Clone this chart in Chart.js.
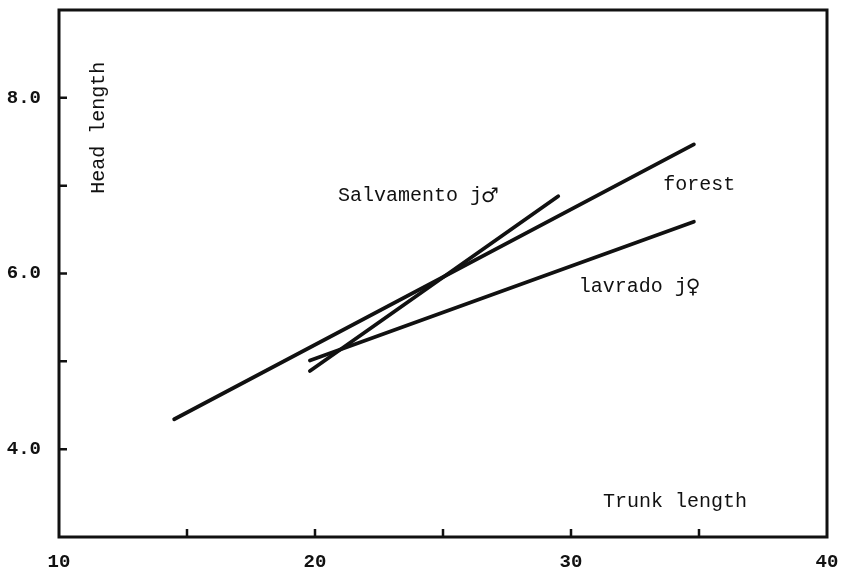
<!DOCTYPE html>
<html>
<head>
<meta charset="utf-8">
<script src="https://cdn.jsdelivr.net/npm/chart.js@4/dist/chart.umd.min.js"></script>
<style>
  html, body { margin: 0; padding: 0; background: #fff; }
  canvas { display: block; }
</style>
</head>
<body>
<canvas id="c" width="845" height="570"></canvas>
<script>
// Regression lines of head length on trunk length (end points)
const forestX = [14.5, 34.8];
const forestY = [4.34, 7.47];
const lavradoX = [19.8, 34.8];
const lavradoY = [5.01, 6.59];
const salvamentoX = [19.8, 29.5];
const salvamentoY = [4.89, 6.88];

// Axis ranges and tick steps
const xTicks = [10, 15, 20, 25, 30, 35, 40];
const xLabels = [10, 20, 30, 40];
const yTicks = [3, 4, 5, 6, 7, 8, 9];
const yLabels = [4, 6, 8];

const FONT = "'Courier New', 'Liberation Mono', monospace";
const SYMFONT = "'DejaVu Sans', sans-serif";
const INK = '#111';

function pts(xs, ys) { return xs.map((x, i) => ({ x: x, y: ys[i] })); }

function lineSet(label, xs, ys) {
  return {
    label: label,
    data: pts(xs, ys),
    showLine: true,
    borderColor: INK,
    borderWidth: 3.8,
    borderCapStyle: 'round',
    pointRadius: 0,
    pointHoverRadius: 0,
    fill: false
  };
}

// Frame, inward tick marks and in-plot captions
const framePlugin = {
  id: 'frame',
  afterDatasetsDraw(chart) {
    const { ctx, chartArea: a, scales: { x, y } } = chart;
    ctx.save();
    ctx.strokeStyle = INK;
    ctx.lineWidth = 3;
    ctx.lineJoin = 'miter';
    ctx.strokeRect(a.left, a.top, a.right - a.left, a.bottom - a.top);

    ctx.lineWidth = 2.5;
    ctx.beginPath();
    xTicks.forEach(v => {
      if (v <= x.min || v >= x.max) return;
      const px = x.getPixelForValue(v);
      ctx.moveTo(px, a.bottom);
      ctx.lineTo(px, a.bottom - 8);
    });
    yTicks.forEach(v => {
      if (v <= y.min || v >= y.max) return;
      const py = y.getPixelForValue(v);
      ctx.moveTo(a.left, py);
      ctx.lineTo(a.left + 8, py);
    });
    ctx.stroke();

    ctx.fillStyle = INK;
    ctx.textBaseline = 'middle';
    ctx.textAlign = 'left';
    const put = (t, sym, vx, vy) => {
      const px = x.getPixelForValue(vx), py = y.getPixelForValue(vy);
      ctx.font = '20px ' + FONT;
      ctx.fillText(t, px, py);
      if (sym) {
        const w = ctx.measureText(t).width;
        ctx.font = '20px ' + SYMFONT;
        ctx.fillText(sym, px + w - 1, py + 1);
      }
    };
    put('Salvamento j', '\u2642', 20.9, 6.89);
    put('forest', '', 33.6, 7.01);
    put('lavrado j', '\u2640', 30.3, 5.85);
    put('Trunk length', '', 31.25, 3.40);

    ctx.save();
    ctx.font = '20px ' + FONT;
    ctx.translate(x.getPixelForValue(11.55), y.getPixelForValue(7.66));
    ctx.rotate(-Math.PI / 2);
    ctx.textAlign = 'center';
    ctx.fillText('Head length', 0, 0);
    ctx.restore();

    ctx.restore();
  }
};

new Chart(document.getElementById('c'), {
  type: 'scatter',
  data: {
    datasets: [
      lineSet('forest', forestX, forestY),
      lineSet('lavrado', lavradoX, lavradoY),
      lineSet('Salvamento', salvamentoX, salvamentoY)
    ]
  },
  options: {
    responsive: false,
    animation: false,
    devicePixelRatio: 1,
    layout: { padding: { left: 0, top: 10, right: 18, bottom: 0 } },
    plugins: { legend: { display: false }, tooltip: { enabled: false } },
    scales: {
      x: {
        type: 'linear',
        min: 10, max: 40,
        afterFit(s) { s.height = 33; s.paddingLeft = 0; s.paddingRight = 0; },
        grid: { display: false, drawTicks: false },
        border: { display: false },
        ticks: {
          stepSize: 5,
          padding: 14,
          maxRotation: 0,
          autoSkip: false,
          color: INK,
          font: { family: FONT, size: 19, weight: 'bold' },
          callback: v => xLabels.includes(v) ? String(v) : ''
        }
      },
      y: {
        type: 'linear',
        min: 3, max: 9,
        afterFit(s) { s.width = 59; s.paddingTop = 0; s.paddingBottom = 0; },
        grid: { display: false, drawTicks: false },
        border: { display: false },
        ticks: {
          stepSize: 1,
          padding: 18,
          autoSkip: false,
          color: INK,
          font: { family: FONT, size: 19, weight: 'bold' },
          callback: v => yLabels.includes(v) ? v.toFixed(1) : ''
        }
      }
    }
  },
  plugins: [framePlugin]
});
</script>
</body>
</html>
